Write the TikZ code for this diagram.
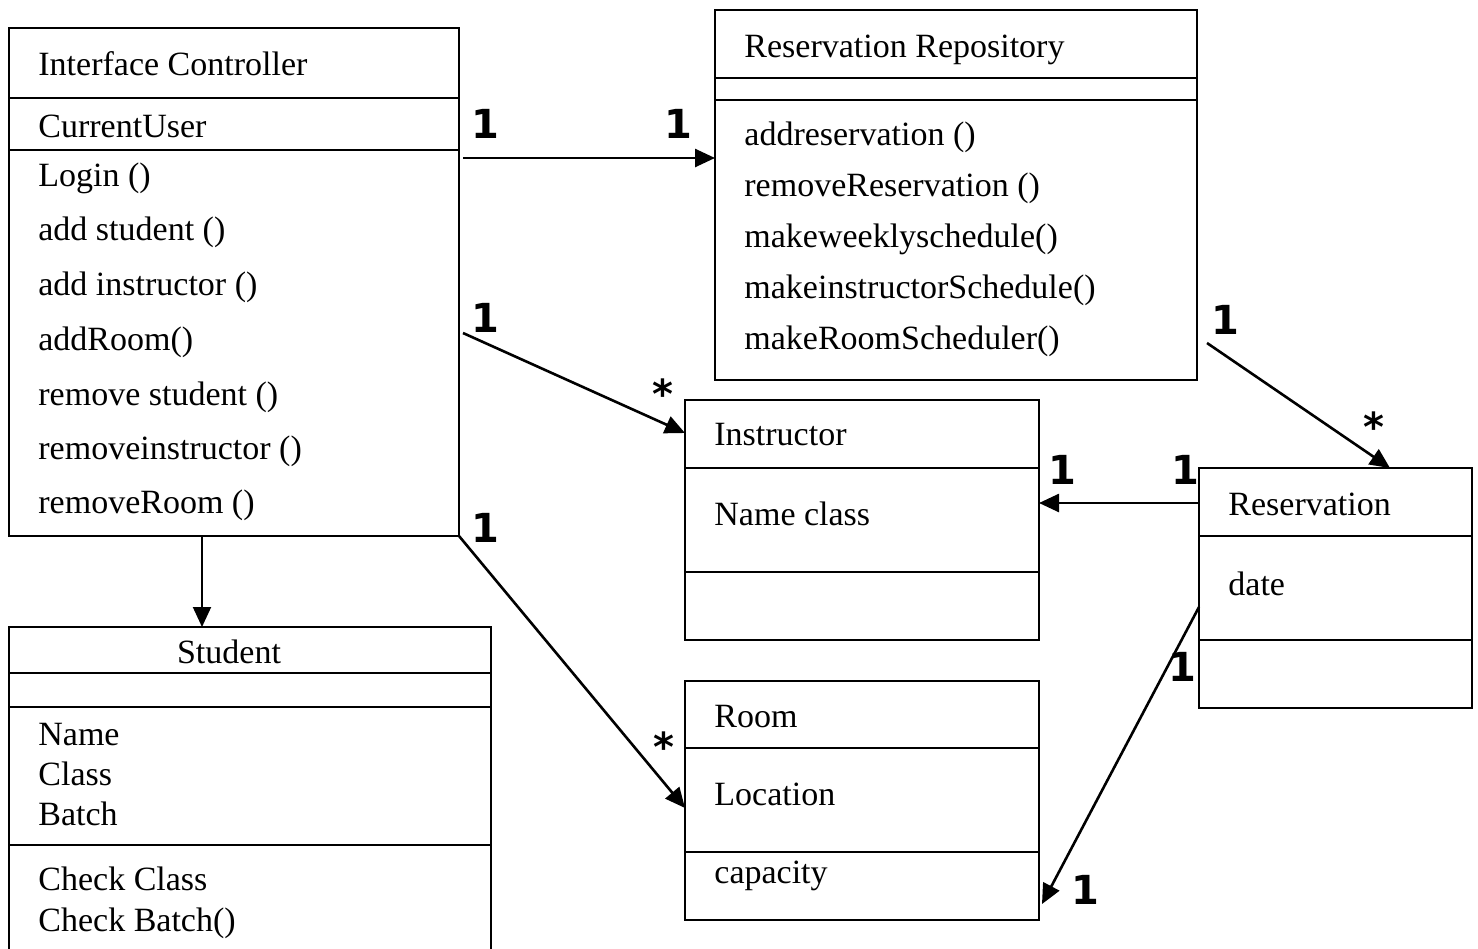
\documentclass[tikz,border=0pt]{standalone}
\usepackage{fontspec}
\setmainfont{Liberation Serif}
\newfontfamily\multfont{DejaVu Sans}
\usetikzlibrary{arrows.meta,calc}

\tikzset{
  classbox/.style={draw, line width=0.9pt, inner sep=0pt, outer sep=0pt, anchor=north west},
  sep/.style={line width=0.9pt},
  member/.style={anchor=base west, inner sep=0pt, font=\fontsize{17}{20}\selectfont},
  mult/.style={inner sep=0pt, font=\multfont\bfseries\fontsize{20}{24}\selectfont},
  assoc/.style={line width=1.3pt, -{Triangle[length=10pt,width=9pt]}},
}

\begin{document}
\begin{tikzpicture}[x=0.5pt, y=-0.5pt]
  \useasboundingbox (0,0) rectangle (1478,948);
  \clip (0,0) rectangle (1478,948);
  \fill[white] (0,0) rectangle (1478,948);

  % ---------- Interface Controller ----------
  \node[classbox, minimum width=225pt, minimum height=254pt] (ic) at (9,28) {};
  \draw[sep] (ic.west |- 0,98) -- (ic.east |- 0,98);
  \draw[sep] (ic.west |- 0,150) -- (ic.east |- 0,150);
  \node[member] (icname) at (38,75)  {Interface Controller};
  \node[member] (icattr) at (38,137) {CurrentUser};
  \node[member] (icm1)   at (38,186) {Login ()};
  \node[member] (icm2)   at (38,240) {add student ()};
  \node[member] (icm3)   at (38,295) {add instructor ()};
  \node[member] (icm4)   at (38,350) {addRoom()};
  \node[member] (icm5)   at (38,405) {remove student ()};
  \node[member] (icm6)   at (38,459) {removeinstructor ()};
  \node[member] (icm7)   at (38,513) {removeRoom ()};

  % ---------- Reservation Repository ----------
  \node[classbox, minimum width=241pt, minimum height=185pt] (rr) at (715,10) {};
  \draw[sep] (rr.west |- 0,78) -- (rr.east |- 0,78);
  \draw[sep] (rr.west |- 0,100) -- (rr.east |- 0,100);
  \node[member] (rrname) at (744,57)  {Reservation Repository};
  \node[member] (rrm1)   at (744,145) {addreservation ()};
  \node[member] (rrm2)   at (744,196) {removeReservation ()};
  \node[member] (rrm3)   at (744,247) {makeweeklyschedule()};
  \node[member] (rrm4)   at (744,298) {makeinstructorSchedule()};
  \node[member] (rrm5)   at (744,349) {makeRoomScheduler()};

  % ---------- Instructor ----------
  \node[classbox, minimum width=177pt, minimum height=120pt] (in) at (685,400) {};
  \draw[sep] (in.west |- 0,468) -- (in.east |- 0,468);
  \draw[sep] (in.west |- 0,572) -- (in.east |- 0,572);
  \node[member] (inname) at (714,445) {Instructor};
  \node[member] (inattr) at (714,525) {Name class};

  % ---------- Reservation ----------
  \node[classbox, minimum width=136.5pt, minimum height=120pt] (rv) at (1199,468) {};
  \draw[sep] (rv.west |- 0,536) -- (rv.east |- 0,536);
  \draw[sep] (rv.west |- 0,640) -- (rv.east |- 0,640);
  \node[member] (rvname) at (1228,515) {Reservation};
  \node[member] (rvattr) at (1228,595) {date};

  % ---------- Room ----------
  \node[classbox, minimum width=177pt, minimum height=119.5pt] (rm) at (685,681) {};
  \draw[sep] (rm.west |- 0,748) -- (rm.east |- 0,748);
  \draw[sep] (rm.west |- 0,852) -- (rm.east |- 0,852);
  \node[member] (rmname) at (714,727) {Room};
  \node[member] (rmattr) at (714,805) {Location};
  \node[member] (rmcap)  at (714,883) {capacity};

  % ---------- Student ----------
  \node[classbox, minimum width=241pt, minimum height=170pt] (st) at (9,627) {};
  \draw[sep] (st.west |- 0,673) -- (st.east |- 0,673);
  \draw[sep] (st.west |- 0,707) -- (st.east |- 0,707);
  \draw[sep] (st.west |- 0,845) -- (st.east |- 0,845);
  \node[member, anchor=base] (stname) at (229,663) {Student};
  \node[member] (sta1) at (38,745) {Name};
  \node[member] (sta2) at (38,785) {Class};
  \node[member] (sta3) at (38,825) {Batch};
  \node[member] (stm1) at (38,890) {Check Class};
  \node[member] (stm2) at (38,931) {Check Batch()};

  % ---------- Associations ----------
  \draw[assoc] ($(ic.east |- 0,158)+(4,0)$) -- (rr.west |- 0,158);
  \draw[assoc] ($(ic.east |- 0,333)+(4,0)$) -- (in.west |- 0,433);
  \draw[assoc] (ic.south east) -- (rm.west |- 0,808);
  \draw[assoc, line width=1pt] (ic.south -| 202,0) -- (st.north -| 202,0);
  \draw[assoc] ($(rr.east |- 0,343)+(10,0)$) -- (rv.north -| 1390,0);
  \draw[assoc] (rv.west |- 0,503) -- (in.east |- 0,503);
  \draw[assoc] (rv.west |- 0,607) -- ($(rm.east |- 0,904)+(3,0)$);

  % ---------- Multiplicities ----------
  \node[mult] (m1) at (485,124) {1};
  \node[mult] (m2) at (678,124) {1};
  \node[mult] (m3) at (485,318) {1};
  \node[mult] (m4) at (663,394) {*};
  \node[mult] (m5) at (485,528) {1};
  \node[mult] (m6) at (664,747) {*};
  \node[mult] (m7) at (1225,320) {1};
  \node[mult] (m8) at (1374,427) {*};
  \node[mult] (m9) at (1062,470) {1};
  \node[mult] (m10) at (1185,470) {1};
  \node[mult] (m11) at (1182,667) {1};
  \node[mult] (m12) at (1085,890) {1};
\end{tikzpicture}
\end{document}
